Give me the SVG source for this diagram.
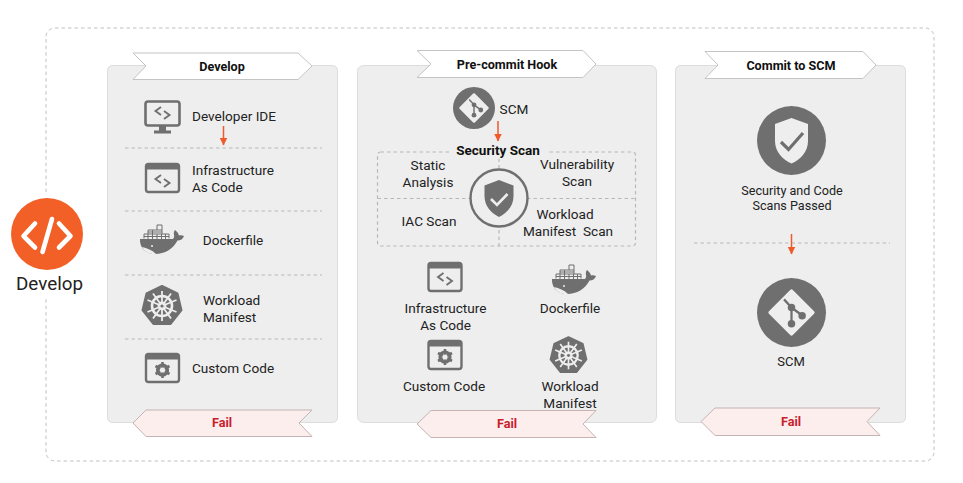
<svg xmlns="http://www.w3.org/2000/svg" xmlns:xlink="http://www.w3.org/1999/xlink" width="963" height="483" viewBox="0 0 963 483">
<style>
text{font-family:Roboto,"Liberation Sans",sans-serif;font-size:13.6px;fill:#222;text-anchor:middle;white-space:pre}
.b{font-weight:700;font-size:12.6px;fill:#111}
.f{font-weight:700;font-size:12.6px;fill:#c8202c}
.s{font-size:12.6px}
.panel{fill:#eeeeee;stroke:#dcdcdc;stroke-width:1}
.rib{fill:#fff;stroke:#c4c4c4;stroke-width:1}
.fail{fill:#fdeeee;stroke:#c4b4b4;stroke-width:1}
.dash{stroke:#b8b8b8;stroke-width:1;stroke-dasharray:3.5 3;fill:none}
.dash2{stroke:#b8b8b8;stroke-width:1.2;stroke-dasharray:3.5 3;fill:none}
.g{fill:#6f6f6f}
.w{fill:#eeeeee}
.arr{stroke:#ee5a2a;stroke-width:1.5;fill:none;marker-end:url(#ah)}
.code{fill:none;stroke:#6f6f6f;stroke-width:1.9}
</style>
<defs>
<marker id="ah" markerUnits="userSpaceOnUse" markerWidth="9" markerHeight="9" refX="7.5" refY="4" orient="auto"><path d="M0 0L8 4L0 8Z" fill="#ee5a2a"/></marker>
<g id="win"><rect x="-16.500" y="-14" width="33" height="28" rx="2.500" fill="none" stroke="#6f6f6f" stroke-width="2.400"/><path d="M-16 -13.500h32v5h-32z" class="g"/></g>
<g id="codei"><path d="M-1.500 -6L-7 -2L-1.500 2M1.500 -2L7 2L1.500 6" class="code"/></g>
<g id="k8s"><path d="M0 -20L15.500 -12.600L19.500 4.200L8.600 18H-8.600L-19.500 4.200L-15.500 -12.600Z" class="g" stroke="#6f6f6f" stroke-width="2" stroke-linejoin="round"/><g fill="none" stroke="#eeeeee"><circle r="10" stroke-width="2.600"/><circle r="3.500" stroke-width="1.800"/><path stroke-width="1.800" d="M0 -15V15M-14.500 -6L14.500 6M-14.500 6L14.500 -6M-9 -12.500L9 12.500M9 -12.500L-9 12.500"/></g><circle r="1.600" fill="#6f6f6f"/></g>
<g id="gear"><circle r="5" fill="none" stroke="#6f6f6f" stroke-width="3.200"/><path d="M0 -8V8M-7 -4L7 4M-7 4L7 -4" stroke="#6f6f6f" stroke-width="2.600"/><circle r="2.600" fill="#eeeeee"/></g>
<g id="whale"><path d="M-21 0H12C13 -1 13.500 -3 13 -4C12.500 -6 13 -8 14 -9C16 -7.500 17.500 -5.500 18 -3.500C19.500 -4 21 -4 23 -3C22 0 19.500 1.500 16.500 1.500C12 10 4 15 -6 15C-16 15 -21.500 8 -21 0Z" class="g"/><path d="M-19 8C-14 9 -9 11 -5 15C-12 15.500 -17 12.500 -19 8Z" fill="#eeeeee"/><circle cx="-9" cy="7" r="1" fill="#eeeeee"/><path d="M-17 -.500V-5H8V-.500M-13 -5V-9H1V-5M-4 -9V-14H1V-9M-13 -5V0M-8.500 -9V0M-4 -5V0M.500 -5V0M4.500 -5V0M-13 -7H1M-17 -2.500H8" fill="none" stroke="#6f6f6f" stroke-width="1"/></g>
<g id="git"><path d="M0 -17L17 0L0 17L-17 0Z" fill="#eeeeee" stroke="#eeeeee" stroke-width="3" stroke-linejoin="round"/><path d="M-6 -10.500L0 -4V9M0 -4L8 2" fill="none" stroke="#6f6f6f" stroke-width="1.800"/><circle cx="0" cy="9" r="3" class="g"/><circle cx="0" cy="-4" r="3" class="g"/><circle cx="8.500" cy="2.500" r="3" class="g"/></g>
</defs>

<rect id="frame" x="46" y="28" width="888" height="433" rx="9" fill="#fff" stroke="#c0c0c0" stroke-width="1" stroke-dasharray="3.500 3"/>

<g id="develop-root">
<rect x="10" y="193" width="75" height="104" fill="#fff"/>
<circle cx="47" cy="234" r="36" fill="#f26027"/>
<path d="M35 223.500L23.500 236L35 247.500M59 223.500L70.500 236L59 247.500M52 219L42.500 252" fill="none" stroke="#fff" stroke-width="4.600" stroke-linecap="round" stroke-linejoin="round"/>
<text x="49.500" y="290" style="font-size:18.800px">Develop</text>
</g>

<g id="panel-develop">
<rect class="panel" x="107.500" y="65.500" width="230" height="357" rx="5"/>
<path class="rib" d="M133 53H298L312 66L298 79.500H133L146 66Z"/>
<text class="b" x="222" y="70.500">Develop</text>
</g>
<g id="dev-ide">
<rect x="145.500" y="101.500" width="34" height="24" rx="2.500" fill="none" stroke="#6f6f6f" stroke-width="2.600"/>
<path d="M159 125.500h7v5h5v3h-17v-3h5z" class="g"/>
<use href="#codei" x="162.500" y="113"/>
<text x="234" y="121">Developer IDE</text>
</g>
<g id="dev-iac">
<use href="#win" x="162.500" y="178"/><use href="#codei" x="162.500" y="181"/>
<text x="192" y="175" style="text-anchor:start">Infrastructure</text>
<text x="192" y="192" style="text-anchor:start">As Code</text>
</g>
<g id="dev-docker">
<use href="#whale" x="161" y="239"/>
<text x="233" y="245">Dockerfile</text>
</g>
<g id="dev-workload">
<use href="#k8s" x="162" y="306"/>
<text x="203" y="305" style="text-anchor:start">Workload</text>
<text x="203" y="322" style="text-anchor:start">Manifest</text>
</g>
<g id="dev-custom">
<use href="#win" x="162.500" y="368"/><use href="#gear" x="162.500" y="370"/>
<text x="233" y="373">Custom Code</text>
</g>
<g id="fail-1">
<path class="fail" d="M312 410H146L133 423L146 436.500H312L299 423Z"/>
<text class="f" x="222" y="427">Fail</text>
</g>

<g id="panel-precommit">
<rect class="panel" x="357.500" y="65.500" width="299" height="357" rx="6"/>
<path class="rib" d="M417 50.500H583L596 64L583 77.500H417L431 64Z"/>
<text class="b" x="507" y="68.500">Pre-commit Hook</text>
</g>
<g id="pre-scm">
<circle cx="474" cy="108" r="21" class="g"/>
<use href="#git" transform="translate(474 108) scale(.8)"/>
<text x="514" y="114">SCM</text>
</g>
<g id="security-scan">
<rect x="377.500" y="152" width="258" height="94" rx="3" class="dash2"/>
<path class="dash2" d="M377.500 198.500H635.500M499 152V246"/>
<rect x="450" y="143" width="97" height="16" fill="#eeeeee"/>
<text x="498" y="155" class="b" style="font-size:13.500px">Security Scan</text>
<circle cx="499" cy="198" r="28.500" fill="#eeeeee" stroke="#6f6f6f" stroke-width="2.400"/>
<path d="M499 180L513.500 185.500V196C513.500 206 507 213 499 217C491 213 484.500 206 484.500 196V185.500Z" class="g"/>
<path d="M491 199L497 205L507.500 194" fill="none" stroke="#eeeeee" stroke-width="2.600"/>
<text x="428" y="170">Static</text>
<text x="428" y="187">Analysis</text>
<text x="577" y="169">Vulnerability</text>
<text x="577" y="186">Scan</text>
<text x="429" y="226">IAC Scan</text>
<text x="565" y="219">Workload</text>
<text x="568" y="236">Manifest  Scan</text>
</g>
<g id="pre-iac">
<use href="#win" x="445" y="277"/><use href="#codei" x="445" y="279"/>
<text x="445.500" y="313">Infrastructure</text>
<text x="445.500" y="330">As Code</text>
</g>
<g id="pre-docker">
<use href="#whale" x="573" y="279"/>
<text x="570" y="313">Dockerfile</text>
</g>
<g id="pre-custom">
<use href="#win" x="445" y="355"/><use href="#gear" x="445" y="357"/>
<text x="444" y="391">Custom Code</text>
</g>
<g id="pre-workload">
<use href="#k8s" transform="translate(568.500 355.500) scale(.92)"/>
<text x="570" y="391">Workload</text>
<text x="570" y="408">Manifest</text>
</g>
<g id="fail-2">
<path class="fail" d="M596 410.500H431L417 424L431 437.500H596L583 424Z"/>
<text class="f" x="507" y="428">Fail</text>
</g>

<g id="panel-commit">
<rect class="panel" x="675.500" y="65.500" width="230" height="357" rx="5"/>
<path class="rib" d="M705 51.500H863L876 65L863 78.500H705L718 65Z"/>
<text class="b" x="791" y="69.500">Commit to SCM</text>
</g>
<g id="commit-passed">
<circle cx="791.500" cy="140.500" r="34.500" class="g"/>
<path d="M791.500 118L808 124V141C808 152 800 160 791.500 163.500C783 160 775 152 775 141V124Z" fill="#eeeeee"/>
<path d="M781 142L788.500 149.500L803 133" fill="none" stroke="#6f6f6f" stroke-width="3.200"/>
<text x="792" y="195" class="s">Security and Code</text>
<text x="792" y="210" class="s">Scans Passed</text>
</g>
<g id="commit-scm">
<circle cx="791.500" cy="312.500" r="34.500" class="g"/>
<use href="#git" transform="translate(791.500 312.500) scale(1.250)"/>
<text x="791" y="366" style="font-size:13px">SCM</text>
</g>
<g id="fail-3">
<path class="fail" d="M880 408H715L701 421.500L715 435.500H880L867 421.500Z"/>
<text class="f" x="791" y="426">Fail</text>
</g>

<g id="connectors">
<path class="dash" d="M125 148H322M125 211H322M125 275H322M125 339H322M694 243H890"/>
<path class="arr" d="M223.500 126V145"/>
<path class="arr" d="M498 121V141"/>
<path class="arr" d="M791.500 234V254"/>
</g>
</svg>
